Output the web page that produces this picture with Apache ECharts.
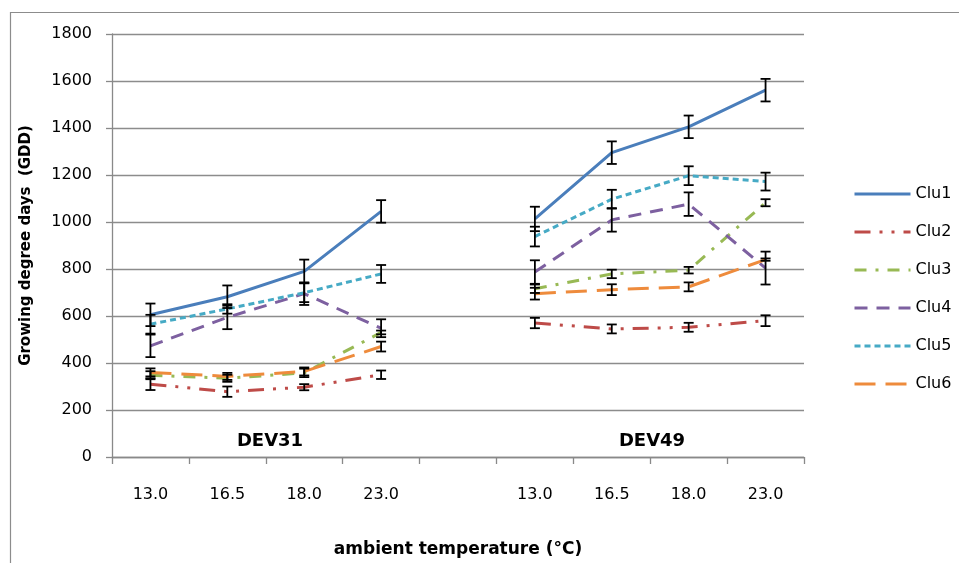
<!DOCTYPE html>
<html><head><meta charset="utf-8">
<script src="https://cdn.jsdelivr.net/npm/echarts@6/dist/echarts.min.js"></script>
<style>html,body{margin:0;padding:0;background:#fff}#c{width:959px;height:563px}</style>
</head><body><div id="c"></div>
<script>
const categories = ['13.0', '16.5', '18.0', '23.0', '', '13.0', '16.5', '18.0', '23.0'];
const groupLabels = ['DEV31', 'DEV49'];
const seriesNames = ['Clu1', 'Clu2', 'Clu3', 'Clu4', 'Clu5', 'Clu6'];
const clu1 = [605, 682, 790, 1045, null, 1013, 1295, 1405, 1561];
const clu1Err = [48, 48, 50, 48, null, 52, 48, 48, 48];
const clu2 = [310, 278, 297, 350, null, 570, 545, 552, 580];
const clu2Err = [25, 22, 13, 18, null, 22, 19, 19, 23];
const clu3 = [348, 335, 358, 530, null, 716, 779, 795, 1082];
const clu3Err = [17, 15, 18, 8, null, 18, 18, 14, 15];
const clu4 = [473, 594, 695, 548, null, 787, 1009, 1076, 804];
const clu4Err = [48, 50, 48, 38, null, 50, 50, 50, 70];
const clu5 = [565, 630, 699, 779, null, 938, 1097, 1197, 1172];
const clu5Err = [40, 20, 40, 38, null, 42, 40, 40, 38];
const clu6 = [360, 343, 364, 470, null, 695, 712, 724, 840];
const clu6Err = [17, 15, 17, 21, null, 25, 23, 19, 5];
const yTicks = {min: 0, max: 1800, interval: 200};

const values = [clu1, clu2, clu3, clu4, clu5, clu6];
const errors = [clu1Err, clu2Err, clu3Err, clu4Err, clu5Err, clu6Err];
const colors = ['#4A7EBB', '#BE4B48', '#98B954', '#7D60A0', '#46AAC5', '#EE8B3C'];
const dashes = [
  'solid',
  [16, 9, 3, 9, 3, 9],
  [12, 9, 3, 9],
  [13, 9],
  [6, 4],
  [21, 10]
];
const FONT = 'DejaVu Sans';

const chart = echarts.init(document.getElementById('c'), null, {renderer: 'canvas'});

const lineSeries = seriesNames.map((n, i) => ({
  name: n,
  type: 'line',
  data: values[i],
  symbol: 'none',
  connectNulls: false,
  z: 2,
  color: colors[i],
  lineStyle: {color: colors[i], width: 3, type: dashes[i], cap: 'butt'}
}));

const errData = [];
values.forEach((arr, s) => {
  arr.forEach((v, i) => {
    if (v != null) errData.push([i, v - errors[s][i], v + errors[s][i]]);
  });
});

const errSeries = {
  name: 'errorbars',
  type: 'custom',
  z: 5,
  silent: true,
  encode: {x: 0, y: [1, 2]},
  data: errData,
  renderItem: function (params, api) {
    const lo = api.coord([api.value(0), api.value(1)]);
    const hi = api.coord([api.value(0), api.value(2)]);
    const w = 5;
    const st = {stroke: '#000', lineWidth: 1.8};
    return {type: 'group', children: [
      {type: 'line', shape: {x1: lo[0], y1: lo[1], x2: hi[0], y2: hi[1]}, style: st},
      {type: 'line', shape: {x1: lo[0] - w, y1: lo[1], x2: lo[0] + w, y2: lo[1]}, style: st},
      {type: 'line', shape: {x1: hi[0] - w, y1: hi[1], x2: hi[0] + w, y2: hi[1]}, style: st}
    ]};
  }
};

chart.setOption({
  animation: false,
  backgroundColor: '#fff',
  textStyle: {fontFamily: FONT},
  grid: {left: 112, right: 155, top: 34, bottom: 99},
  legend: {
    data: seriesNames,
    orient: 'vertical',
    left: 853,
    top: 186,
    padding: 0,
    itemWidth: 56,
    itemHeight: 16,
    itemGap: 22,
    itemStyle: {opacity: 0},
    lineStyle: {width: 3},
    textStyle: {fontFamily: FONT, fontSize: 16, color: '#000', lineHeight: 16}
  },
  xAxis: {
    type: 'category',
    data: categories,
    boundaryGap: true,
    name: 'ambient temperature (°C)',
    nameLocation: 'middle',
    nameGap: 84,
    nameTextStyle: {fontFamily: FONT, fontSize: 17, fontWeight: 'bold', color: '#000'},
    axisLine: {lineStyle: {color: '#898989', width: 1.3}},
    axisTick: {show: true, length: 7, alignWithLabel: false, interval: 0, lineStyle: {color: '#898989', width: 1.3}},
    axisLabel: {interval: 0, margin: 30, fontFamily: FONT, fontSize: 16, color: '#000'},
    splitLine: {show: false}
  },
  yAxis: {
    type: 'value',
    min: yTicks.min, max: yTicks.max, interval: yTicks.interval,
    name: 'Growing degree days  (GDD)',
    nameLocation: 'middle',
    nameGap: 78,
    nameTextStyle: {fontFamily: FONT, fontSize: 15, fontWeight: 'bold', color: '#000'},
    axisLine: {show: true, lineStyle: {color: '#898989', width: 1.3}},
    axisTick: {show: true, length: 6, lineStyle: {color: '#898989', width: 1.3}},
    axisLabel: {margin: 20, fontFamily: FONT, fontSize: 16, color: '#000', formatter: v => String(v)},
    splitLine: {show: true, lineStyle: {color: '#8c8c8c', width: 1.3}}
  },
  series: lineSeries.concat([errSeries]),
  graphic: [
    {type: 'rect', left: 8, top: 10, shape: {width: 1000, height: 600}, style: {fill: 'none', stroke: '#8c8c8c', lineWidth: 1.2}, z: -1, silent: true},
    {type: 'text', x: 270, y: 441, style: {text: groupLabels[0], fontFamily: FONT, fontSize: 18, fontWeight: 'bold', fill: '#000', textAlign: 'center', textVerticalAlign: 'middle'}},
    {type: 'text', x: 652, y: 441, style: {text: groupLabels[1], fontFamily: FONT, fontSize: 18, fontWeight: 'bold', fill: '#000', textAlign: 'center', textVerticalAlign: 'middle'}}
  ]
});
</script></body></html>
